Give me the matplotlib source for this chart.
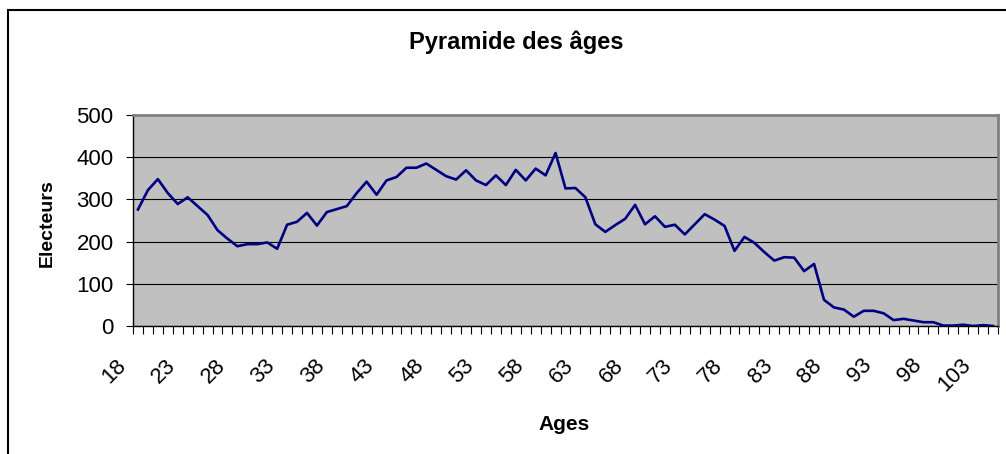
import matplotlib
matplotlib.use("Agg")
import matplotlib.pyplot as plt
import matplotlib.transforms as mtransforms
from matplotlib.patches import Rectangle
import numpy as np

plt.rcParams['font.family'] = ['Liberation Sans', 'DejaVu Sans']

# ages 18 .. 104
ages = list(range(18, 105))
electeurs = [276, 322, 348, 315, 289, 305, 284, 263, 227, 207,
             189, 194, 194, 198, 183, 240, 247, 268, 238, 270,
             277, 284, 315, 342, 311, 345, 353, 375, 375, 385,
             370, 355, 347, 369, 345, 334, 357, 334, 370, 345,
             373, 357, 410, 326, 327, 305, 241, 223, 239, 254,
             287, 241, 260, 235, 240, 217, 241, 265, 252, 237,
             178, 211, 197, 175, 155, 163, 162, 130, 147, 62,
             44, 39, 22, 36, 36, 30, 14, 17, 13, 9,
             9, 1, 1, 3, 0, 2, 0]
y_ticks = [0, 100, 200, 300, 400, 500]
title = "Pyramide des âges"
xlabel = "Ages"
ylabel = "Electeurs"

fig = plt.figure(figsize=(10.06, 4.54), dpi=100)
fig.patch.set_facecolor('white')

# outer chart border (cut off at right and bottom)
fig.patches.append(Rectangle((8 / 1006, -0.05), 1.1, 1 - 10 / 454 + 0.05,
                             transform=fig.transFigure, fill=False,
                             edgecolor='black', linewidth=1.5, zorder=0))

ax = fig.add_axes([133 / 1006, 1 - 326 / 454, 865 / 1006, 211 / 454])
ax.set_facecolor('#c0c0c0')

x = np.arange(len(ages))
ax.plot(x, electeurs, color='#000080', linewidth=1.9, zorder=3)

ax.set_xlim(-0.5, len(ages) - 0.5)
ax.set_ylim(0, 500)

# gridlines
ax.set_yticks(y_ticks)
ax.yaxis.grid(True, color='black', linewidth=0.8)
ax.set_axisbelow(True)
ax.tick_params(axis='y', direction='out', length=5, width=0.8,
               labelsize=16, pad=9)

# category ticks between categories, labels every 5 ages
ax.set_xticks(x[::5])
ax.set_xticklabels([str(a) for a in ages[::5]], rotation=45,
                   ha='right', va='center', rotation_mode='anchor')
ax.set_xticks(np.arange(-0.5, len(ages)), minor=True)
ax.tick_params(axis='x', which='major', length=0, labelsize=16, pad=26)
ax.tick_params(axis='x', which='minor', direction='out', length=6, width=0.8)
offset = mtransforms.ScaledTranslation(-15 / 100, 0, fig.dpi_scale_trans)
for lbl in ax.get_xticklabels():
    lbl.set_transform(lbl.get_transform() + offset)

for side in ['top', 'right']:
    ax.spines[side].set_color('#808080')
    ax.spines[side].set_linewidth(2)
for side in ['left', 'bottom']:
    ax.spines[side].set_color('black')
    ax.spines[side].set_linewidth(1)

fig.text(516 / 1006, 1 - 42 / 454, title, ha='center', va='center',
         fontsize=17, fontweight='bold')
fig.text(564 / 1006, 1 - 425 / 454, xlabel, ha='center', va='center',
         fontsize=15, fontweight='bold')
fig.text(47 / 1006, 1 - 223 / 454, ylabel, ha='center', va='center',
         fontsize=14, fontweight='bold', rotation=90)

fig.savefig('out.png', dpi=100)
